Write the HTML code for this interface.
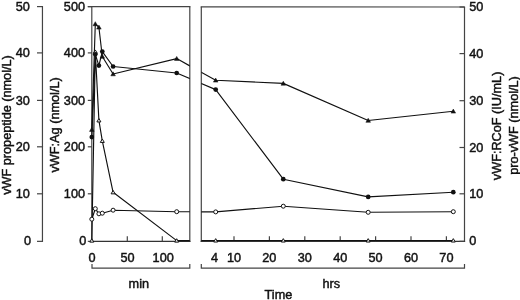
<!DOCTYPE html>
<html><head><meta charset="utf-8"><style>
html,body{margin:0;padding:0;background:#fff;width:520px;height:300px;overflow:hidden}
svg{display:block;filter:blur(0.3px)}
text{font-family:"Liberation Sans",Arial,Helvetica,sans-serif;fill:#111;stroke:#111;stroke-width:0.45px}
</style></head><body>
<svg width="520" height="300" viewBox="0 0 520 300">
<rect width="520" height="300" fill="#fff"/>
<line x1="42.45" y1="6.60" x2="42.45" y2="241.35" stroke="#444" stroke-width="1.2"/>
<line x1="37.00" y1="6.60" x2="43.05" y2="6.60" stroke="#444" stroke-width="1.2"/>
<line x1="37.00" y1="52.90" x2="43.05" y2="52.90" stroke="#444" stroke-width="1.2"/>
<line x1="37.00" y1="100.40" x2="43.05" y2="100.40" stroke="#444" stroke-width="1.2"/>
<line x1="37.00" y1="146.80" x2="43.05" y2="146.80" stroke="#444" stroke-width="1.2"/>
<line x1="37.00" y1="193.80" x2="43.05" y2="193.80" stroke="#444" stroke-width="1.2"/>
<line x1="37.00" y1="241.35" x2="43.05" y2="241.35" stroke="#444" stroke-width="1.2"/>
<line x1="91.80" y1="6.60" x2="91.80" y2="241.35" stroke="#444" stroke-width="1.2"/>
<line x1="87.80" y1="6.60" x2="91.80" y2="6.60" stroke="#444" stroke-width="1.2"/>
<line x1="87.80" y1="52.90" x2="91.80" y2="52.90" stroke="#444" stroke-width="1.2"/>
<line x1="87.80" y1="100.40" x2="91.80" y2="100.40" stroke="#444" stroke-width="1.2"/>
<line x1="87.80" y1="146.80" x2="91.80" y2="146.80" stroke="#444" stroke-width="1.2"/>
<line x1="87.80" y1="193.80" x2="91.80" y2="193.80" stroke="#444" stroke-width="1.2"/>
<line x1="87.80" y1="241.35" x2="91.80" y2="241.35" stroke="#444" stroke-width="1.2"/>
<line x1="87.80" y1="6.60" x2="190.40" y2="6.60" stroke="#444" stroke-width="1.2"/>
<line x1="189.80" y1="6.60" x2="189.80" y2="241.95" stroke="#444" stroke-width="1.2"/>
<line x1="91.80" y1="241.35" x2="190.40" y2="241.35" stroke="#333" stroke-width="1.2"/>
<line x1="200.70" y1="6.80" x2="465.10" y2="7.00" stroke="#444" stroke-width="1.2"/>
<line x1="201.30" y1="6.80" x2="201.30" y2="241.95" stroke="#444" stroke-width="1.2"/>
<line x1="464.50" y1="7.00" x2="464.50" y2="241.95" stroke="#444" stroke-width="1.2"/>
<line x1="200.70" y1="241.35" x2="465.10" y2="241.35" stroke="#333" stroke-width="1.2"/>
<line x1="459.50" y1="7.00" x2="464.50" y2="7.00" stroke="#444" stroke-width="1.2"/>
<line x1="459.50" y1="53.60" x2="464.50" y2="53.60" stroke="#444" stroke-width="1.2"/>
<line x1="459.50" y1="100.70" x2="464.50" y2="100.70" stroke="#444" stroke-width="1.2"/>
<line x1="459.50" y1="147.50" x2="464.50" y2="147.50" stroke="#444" stroke-width="1.2"/>
<line x1="459.50" y1="193.80" x2="464.50" y2="193.80" stroke="#444" stroke-width="1.2"/>
<line x1="459.50" y1="241.35" x2="464.50" y2="241.35" stroke="#444" stroke-width="1.2"/>
<line x1="127.30" y1="241.35" x2="127.30" y2="236.20" stroke="#444" stroke-width="1.2"/>
<line x1="162.30" y1="241.35" x2="162.30" y2="236.20" stroke="#444" stroke-width="1.2"/>
<line x1="234.00" y1="241.35" x2="234.00" y2="236.20" stroke="#444" stroke-width="1.2"/>
<line x1="269.40" y1="241.35" x2="269.40" y2="236.20" stroke="#444" stroke-width="1.2"/>
<line x1="304.80" y1="241.35" x2="304.80" y2="236.20" stroke="#444" stroke-width="1.2"/>
<line x1="340.20" y1="241.35" x2="340.20" y2="236.20" stroke="#444" stroke-width="1.2"/>
<line x1="375.60" y1="241.35" x2="375.60" y2="236.20" stroke="#444" stroke-width="1.2"/>
<line x1="411.00" y1="241.35" x2="411.00" y2="236.20" stroke="#444" stroke-width="1.2"/>
<line x1="446.40" y1="241.35" x2="446.40" y2="236.20" stroke="#444" stroke-width="1.2"/>
<path d="M92,264 V268.1 H189.8 V264" fill="none" stroke="#444" stroke-width="1.2"/>
<path d="M201.3,264 V268.1 H464.5 V264" fill="none" stroke="#444" stroke-width="1.2"/>
<text x="29.80" y="10.70" text-anchor="end" font-size="12.7">50</text>
<text x="29.80" y="57.00" text-anchor="end" font-size="12.7">40</text>
<text x="29.80" y="104.50" text-anchor="end" font-size="12.7">30</text>
<text x="29.80" y="150.90" text-anchor="end" font-size="12.7">20</text>
<text x="29.80" y="197.90" text-anchor="end" font-size="12.7">10</text>
<text x="31.10" y="244.95" text-anchor="end" font-size="12.7">0</text>
<text x="85.00" y="10.70" text-anchor="end" font-size="12.7">500</text>
<text x="85.00" y="57.00" text-anchor="end" font-size="12.7">400</text>
<text x="85.00" y="104.50" text-anchor="end" font-size="12.7">300</text>
<text x="85.00" y="150.90" text-anchor="end" font-size="12.7">200</text>
<text x="85.00" y="197.90" text-anchor="end" font-size="12.7">100</text>
<text x="86.20" y="244.95" text-anchor="end" font-size="12.7">0</text>
<text x="469.20" y="11.10" text-anchor="start" font-size="12.7">50</text>
<text x="469.20" y="57.70" text-anchor="start" font-size="12.7">40</text>
<text x="469.20" y="104.80" text-anchor="start" font-size="12.7">30</text>
<text x="469.20" y="151.60" text-anchor="start" font-size="12.7">20</text>
<text x="469.20" y="197.90" text-anchor="start" font-size="12.7">10</text>
<text x="469.20" y="245.45" text-anchor="start" font-size="12.7">0</text>
<text x="92.00" y="262.20" text-anchor="middle" font-size="12.7">0</text>
<text x="127.50" y="262.20" text-anchor="middle" font-size="12.7">50</text>
<text x="163.20" y="262.20" text-anchor="middle" font-size="12.7">100</text>
<text x="214.50" y="262.20" text-anchor="middle" font-size="12.7">4</text>
<text x="234.00" y="262.20" text-anchor="middle" font-size="12.7">10</text>
<text x="269.20" y="262.20" text-anchor="middle" font-size="12.7">20</text>
<text x="304.80" y="262.20" text-anchor="middle" font-size="12.7">30</text>
<text x="340.20" y="262.20" text-anchor="middle" font-size="12.7">40</text>
<text x="375.50" y="262.20" text-anchor="middle" font-size="12.7">50</text>
<text x="411.00" y="262.20" text-anchor="middle" font-size="12.7">60</text>
<text x="446.40" y="262.20" text-anchor="middle" font-size="12.7">70</text>
<text x="138.80" y="288.20" text-anchor="middle" font-size="12.7">min</text>
<text x="331.20" y="288.20" text-anchor="middle" font-size="12.7">hrs</text>
<text x="278.40" y="298.60" text-anchor="middle" font-size="12.7">Time</text>
<text transform="translate(10.6,125.0) rotate(-90)" text-anchor="middle" font-size="12.7">vWF propeptide (nmol/L)</text>
<text transform="translate(58.5,124.9) rotate(-90)" text-anchor="middle" font-size="12.7">vWF:Ag (nmol/L)</text>
<text transform="translate(501.2,125.9) rotate(-90)" text-anchor="middle" font-size="12.7">vWF:RCoF (IU/mL)</text>
<text transform="translate(518.2,125.5) rotate(-90)" text-anchor="middle" font-size="12.7">pro-vWF (nmol/L)</text>
<defs><clipPath id="cl"><rect x="0" y="0" width="189.8" height="300"/></clipPath><clipPath id="cr"><rect x="201.3" y="0" width="400" height="300"/></clipPath></defs>
<polyline points="91.80,129.60 95.30,23.90 98.90,27.30 102.30,56.50 113.10,74.00 176.70,58.60 215.70,80.30 283.30,83.40 368.20,120.50 453.30,111.30" fill="none" stroke="#111" stroke-width="1.15" stroke-linejoin="round" clip-path="url(#cl)"/>
<polyline points="91.80,129.60 95.30,23.90 98.90,27.30 102.30,56.50 113.10,74.00 176.70,58.60 215.70,80.30 283.30,83.40 368.20,120.50 453.30,111.30" fill="none" stroke="#111" stroke-width="1.15" stroke-linejoin="round" clip-path="url(#cr)"/>
<polyline points="91.80,137.10 95.30,54.30 98.90,65.60 102.30,51.60 113.10,66.50 176.70,73.00 215.70,89.60 283.30,179.20 368.20,196.90 453.30,192.20" fill="none" stroke="#111" stroke-width="1.15" stroke-linejoin="round" clip-path="url(#cl)"/>
<polyline points="91.80,137.10 95.30,54.30 98.90,65.60 102.30,51.60 113.10,66.50 176.70,73.00 215.70,89.60 283.30,179.20 368.20,196.90 453.30,192.20" fill="none" stroke="#111" stroke-width="1.15" stroke-linejoin="round" clip-path="url(#cr)"/>
<polyline points="91.80,240.60 95.30,51.80 98.90,120.40 102.30,140.90 113.10,192.30 176.70,240.60 215.70,240.50 283.30,240.50 368.20,240.50 453.30,240.50" fill="none" stroke="#111" stroke-width="1.15" stroke-linejoin="round" clip-path="url(#cl)"/>
<polyline points="91.80,240.60 95.30,51.80 98.90,120.40 102.30,140.90 113.10,192.30 176.70,240.60 215.70,240.50 283.30,240.50 368.20,240.50 453.30,240.50" fill="none" stroke="#111" stroke-width="1.15" stroke-linejoin="round" clip-path="url(#cr)"/>
<polyline points="91.80,219.20 95.30,208.70 98.90,213.80 102.30,213.20 113.10,210.20 176.70,211.70 215.70,211.90 283.30,206.20 368.20,212.30 453.30,211.70" fill="none" stroke="#111" stroke-width="1.15" stroke-linejoin="round" clip-path="url(#cl)"/>
<polyline points="91.80,219.20 95.30,208.70 98.90,213.80 102.30,213.20 113.10,210.20 176.70,211.70 215.70,211.90 283.30,206.20 368.20,212.30 453.30,211.70" fill="none" stroke="#111" stroke-width="1.15" stroke-linejoin="round" clip-path="url(#cr)"/>
<circle cx="91.80" cy="219.20" r="2.0" fill="#fff" stroke="#111" stroke-width="1"/>
<circle cx="95.30" cy="208.70" r="2.0" fill="#fff" stroke="#111" stroke-width="1"/>
<circle cx="98.90" cy="213.80" r="2.0" fill="#fff" stroke="#111" stroke-width="1"/>
<circle cx="102.30" cy="213.20" r="2.0" fill="#fff" stroke="#111" stroke-width="1"/>
<circle cx="113.10" cy="210.20" r="2.0" fill="#fff" stroke="#111" stroke-width="1"/>
<circle cx="176.70" cy="211.70" r="2.0" fill="#fff" stroke="#111" stroke-width="1"/>
<circle cx="215.70" cy="211.90" r="2.0" fill="#fff" stroke="#111" stroke-width="1"/>
<circle cx="283.30" cy="206.20" r="2.0" fill="#fff" stroke="#111" stroke-width="1"/>
<circle cx="368.20" cy="212.30" r="2.0" fill="#fff" stroke="#111" stroke-width="1"/>
<circle cx="453.30" cy="211.70" r="2.0" fill="#fff" stroke="#111" stroke-width="1"/>
<polygon points="91.80,238.73 89.80,242.13 93.80,242.13" fill="#fff" stroke="#111" stroke-width="1" stroke-linejoin="round"/>
<polygon points="95.30,49.93 93.30,53.33 97.30,53.33" fill="#fff" stroke="#111" stroke-width="1" stroke-linejoin="round"/>
<polygon points="98.90,118.53 96.90,121.93 100.90,121.93" fill="#fff" stroke="#111" stroke-width="1" stroke-linejoin="round"/>
<polygon points="102.30,139.03 100.30,142.43 104.30,142.43" fill="#fff" stroke="#111" stroke-width="1" stroke-linejoin="round"/>
<polygon points="113.10,190.43 111.10,193.83 115.10,193.83" fill="#fff" stroke="#111" stroke-width="1" stroke-linejoin="round"/>
<polygon points="176.70,238.73 174.70,242.13 178.70,242.13" fill="#fff" stroke="#111" stroke-width="1" stroke-linejoin="round"/>
<polygon points="215.70,238.63 213.70,242.03 217.70,242.03" fill="#fff" stroke="#111" stroke-width="1" stroke-linejoin="round"/>
<polygon points="283.30,238.63 281.30,242.03 285.30,242.03" fill="#fff" stroke="#111" stroke-width="1" stroke-linejoin="round"/>
<polygon points="368.20,238.63 366.20,242.03 370.20,242.03" fill="#fff" stroke="#111" stroke-width="1" stroke-linejoin="round"/>
<polygon points="453.30,238.63 451.30,242.03 455.30,242.03" fill="#fff" stroke="#111" stroke-width="1" stroke-linejoin="round"/>
<circle cx="91.80" cy="137.10" r="2.35" fill="#111"/>
<circle cx="95.30" cy="54.30" r="2.35" fill="#111"/>
<circle cx="98.90" cy="65.60" r="2.35" fill="#111"/>
<circle cx="102.30" cy="51.60" r="2.35" fill="#111"/>
<circle cx="113.10" cy="66.50" r="2.35" fill="#111"/>
<circle cx="176.70" cy="73.00" r="2.35" fill="#111"/>
<circle cx="215.70" cy="89.60" r="2.35" fill="#111"/>
<circle cx="283.30" cy="179.20" r="2.35" fill="#111"/>
<circle cx="368.20" cy="196.90" r="2.35" fill="#111"/>
<circle cx="453.30" cy="192.20" r="2.35" fill="#111"/>
<polygon points="91.80,127.40 89.50,131.40 94.10,131.40" fill="#111" stroke="#111" stroke-width="0.5" stroke-linejoin="round"/>
<polygon points="95.30,21.70 93.00,25.70 97.60,25.70" fill="#111" stroke="#111" stroke-width="0.5" stroke-linejoin="round"/>
<polygon points="98.90,25.10 96.60,29.10 101.20,29.10" fill="#111" stroke="#111" stroke-width="0.5" stroke-linejoin="round"/>
<polygon points="102.30,54.30 100.00,58.30 104.60,58.30" fill="#111" stroke="#111" stroke-width="0.5" stroke-linejoin="round"/>
<polygon points="113.10,71.80 110.80,75.80 115.40,75.80" fill="#111" stroke="#111" stroke-width="0.5" stroke-linejoin="round"/>
<polygon points="176.70,56.40 174.40,60.40 179.00,60.40" fill="#111" stroke="#111" stroke-width="0.5" stroke-linejoin="round"/>
<polygon points="215.70,78.10 213.40,82.10 218.00,82.10" fill="#111" stroke="#111" stroke-width="0.5" stroke-linejoin="round"/>
<polygon points="283.30,81.20 281.00,85.20 285.60,85.20" fill="#111" stroke="#111" stroke-width="0.5" stroke-linejoin="round"/>
<polygon points="368.20,118.30 365.90,122.30 370.50,122.30" fill="#111" stroke="#111" stroke-width="0.5" stroke-linejoin="round"/>
<polygon points="453.30,109.10 451.00,113.10 455.60,113.10" fill="#111" stroke="#111" stroke-width="0.5" stroke-linejoin="round"/>
</svg>
</body></html>
